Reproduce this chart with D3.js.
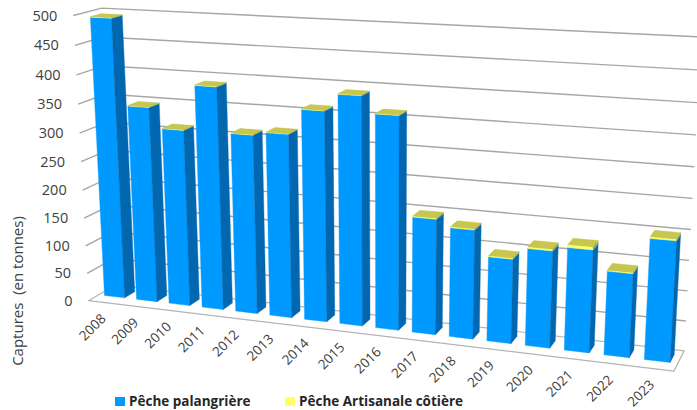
<!DOCTYPE html>
<html>
<head>
<meta charset="utf-8">
<script src="https://cdn.jsdelivr.net/npm/d3@7"></script>
<style>
  html, body { margin: 0; padding: 0; background: #ffffff; }
  svg { display: block; }
  text { font-family: "Open Sans", "DejaVu Sans", sans-serif; }
</style>
</head>
<body>
<script>
// ---- data -------------------------------------------------------------
const years = ["2008","2009","2010","2011","2012","2013","2014","2015",
               "2016","2017","2018","2019","2020","2021","2022","2023"];
const palangriere = [493, 345, 310, 388, 311, 317, 360, 389, 361, 196, 184, 142, 162, 170, 138, 197];
const artisanale  = [1, 1, 1, 1, 1, 1, 1, 1, 1, 2, 2, 2, 3, 5, 2, 3];
const yTicks = [0, 50, 100, 150, 200, 250, 300, 350, 400, 450, 500];
const seriesNames = ["Pêche palangrière", "Pêche Artisanale côtière"];
const yTitle = "Captures  (en tonnes)";

// ---- page -------------------------------------------------------------
const W = 697, H = 410;
const svg = d3.select("body").append("svg").attr("width", W).attr("height", H);

// ---- perspective projection of the unit box ---------------------------
// box coordinates: x = category axis (0..1), y = value (0..1), z = depth (0 front .. 1 back)
// anchor points: where the box corners fall on the page
const boxAnchors = [
  [[0, 0, 0], [89, 301]],
  [[0, 1, 0], [73, 16]],
  [[0, 0.5, 0], [81, 161]],
  [[0, 1, 1], [102, 8]],
  [[0, 0, 1], [115, 285]],
  [[1, 0, 0], [674, 371]],
  [[1, 0, 1], [684, 351]],
  [[1, 1, 1], [701.5, 37]]
];

const NX = 350, NY = 200, NS = 350;   // page normalisation for a stable solve

// least-squares 3x4 projective camera through the anchor points
function fitProjection(pairs) {
  const rows = [], rhs = [];
  pairs.forEach(([[X, Y, Z], [u0, v0]]) => {
    const u = (u0 - NX) / NS, v = (v0 - NY) / NS;
    rows.push([X, Y, Z, 1, 0, 0, 0, 0, -u * X, -u * Y, -u * Z]); rhs.push(u);
    rows.push([0, 0, 0, 0, X, Y, Z, 1, -v * X, -v * Y, -v * Z]); rhs.push(v);
  });
  const n = 11;
  const M = Array.from({ length: n }, () => new Array(n + 1).fill(0));
  rows.forEach((r, k) => {
    for (let i = 0; i < n; i++) {
      for (let j = 0; j < n; j++) M[i][j] += r[i] * r[j];
      M[i][n] += r[i] * rhs[k];
    }
  });
  for (let c = 0; c < n; c++) {
    let piv = c;
    for (let r = c + 1; r < n; r++) if (Math.abs(M[r][c]) > Math.abs(M[piv][c])) piv = r;
    [M[c], M[piv]] = [M[piv], M[c]];
    for (let r = 0; r < n; r++) {
      if (r === c) continue;
      const f = M[r][c] / M[c][c];
      for (let j = c; j <= n; j++) M[r][j] -= f * M[c][j];
    }
  }
  return M.map((row, i) => row[n] / row[i]);
}

const P = fitProjection(boxAnchors);
function project([X, Y, Z]) {
  const w = P[8] * X + P[9] * Y + P[10] * Z + 1;
  const u = (P[0] * X + P[1] * Y + P[2] * Z + P[3]) / w;
  const v = (P[4] * X + P[5] * Y + P[6] * Z + P[7]) / w;
  return [u * NS + NX, v * NS + NY];
}
const pathOf = pts => "M" + pts.map(p => project(p).map(d => d.toFixed(2)).join(",")).join("L") + "Z";
function signedArea(pts) {
  const q = pts.map(project);
  let s = 0;
  for (let i = 0; i < q.length; i++) {
    const a = q[i], b = q[(i + 1) % q.length];
    s += a[0] * b[1] - b[0] * a[1];
  }
  return s;
}

// ---- scales -----------------------------------------------------------
const x = d3.scaleBand().domain(years).range([0, 1]).paddingInner(0.37).paddingOuter(0.185);
const y = d3.scaleLinear().domain([0, 500]).range([0, 1]);
const zFront = 0.37, zBack = 0.76;

// ---- walls, floor and gridlines --------------------------------------
const gridColor = "#a6a6a6";
const frame = svg.append("g");
frame.append("path").attr("d", pathOf([[0,0,1],[1,0,1],[1,1,1],[0,1,1]])).attr("fill", "#ffffff");
frame.append("path").attr("d", pathOf([[0,0,0],[0,0,1],[0,1,1],[0,1,0]])).attr("fill", "#ffffff");

frame.selectAll("path.grid")
  .data(yTicks.filter(t => t > 0))
  .join("path")
  .attr("class", "grid")
  .attr("d", t => d3.line()([[0, y(t), 0], [0, y(t), 1], [1, y(t), 1]].map(project)))
  .attr("fill", "none")
  .attr("stroke", gridColor)
  .attr("stroke-width", 1.4);

frame.append("path")
  .attr("d", pathOf([[0,0,0],[1,0,0],[1,0,1],[0,0,1]]))
  .attr("fill", "#ffffff")
  .attr("stroke", "#b4b4b4")
  .attr("stroke-width", 1.2)
  .attr("stroke-linejoin", "round");

// ---- value axis labels -----------------------------------------------
svg.append("g").selectAll("text")
  .data(yTicks)
  .join("text")
  .attr("x", t => project([0, y(t), 0])[0] - 16)
  .attr("y", t => project([0, y(t), 0])[1])
  .attr("dy", "0.35em")
  .attr("text-anchor", "end")
  .attr("font-size", 14.5)
  .attr("fill", "#404040")
  .text(t => t);

svg.append("text")
  .attr("transform", "translate(23,291) rotate(-90)")
  .attr("text-anchor", "middle")
  .attr("font-size", 15)
  .attr("fill", "#404040")
  .style("white-space", "pre")
  .text(yTitle);

// ---- category labels -------------------------------------------------
svg.append("g").selectAll("text")
  .data(years)
  .join("text")
  .attr("transform", d => {
    const [px, py] = project([x(d) + x.bandwidth() / 2, 0, 0]);
    return `translate(${px + 2},${py + 17}) rotate(-45)`;
  })
  .attr("text-anchor", "end")
  .attr("font-size", 13.5)
  .attr("fill", "#404040")
  .text(d => d);

// ---- stacked 3-D columns ---------------------------------------------
const table = years.map((yr, i) => ({ year: yr, pal: palangriere[i], art: artisanale[i] }));
const stacked = d3.stack().keys(["pal", "art"])(table);
const faceColors = {
  pal: { front: "#0099ff", side: "#0067b0", top: "#45b5ff", back: "#0099ff", bottom: "#0080d0" },
  art: { front: "#ffff66", side: "#a8a83a", top: "#c9c64f", back: "#ffff66", bottom: "#d0d050" }
};

function boxFaces(x0, x1, y0, y1, z0, z1) {
  return [
    { k: "front",  pts: [[x0,y0,z0],[x1,y0,z0],[x1,y1,z0],[x0,y1,z0]] },
    { k: "back",   pts: [[x1,y0,z1],[x0,y0,z1],[x0,y1,z1],[x1,y1,z1]] },
    { k: "side",   pts: [[x1,y0,z0],[x1,y0,z1],[x1,y1,z1],[x1,y1,z0]] },
    { k: "side",   pts: [[x0,y0,z1],[x0,y0,z0],[x0,y1,z0],[x0,y1,z1]] },
    { k: "top",    pts: [[x0,y1,z0],[x1,y1,z0],[x1,y1,z1],[x0,y1,z1]] },
    { k: "bottom", pts: [[x1,y0,z0],[x0,y0,z0],[x0,y0,z1],[x1,y0,z1]] }
  ];
}

// columns painted left to right, each face kept only when it faces the viewer
const barsG = svg.append("g");
years.forEach((yr, i) => {
  stacked.forEach(layer => {
    const seg = layer[i];
    const x0 = x(yr), x1 = x(yr) + x.bandwidth();
    const y0 = y(seg[0]), y1 = y(seg[1]);
    const faces = boxFaces(x0, x1, y0, y1, zFront, zBack);
    const ref = Math.sign(signedArea(faces[0].pts));
    faces.filter(f => Math.sign(signedArea(f.pts)) === ref)
      .forEach(f => {
        barsG.append("path")
          .attr("d", pathOf(f.pts))
          .attr("fill", faceColors[layer.key][f.k])
          .attr("stroke", faceColors[layer.key][f.k])
          .attr("stroke-width", 0.4)
          .attr("stroke-linejoin", "round");
      });
  });
});

// ---- legend ----------------------------------------------------------
const legendItems = [
  { name: seriesNames[0], color: "#0099ff", x: 115 },
  { name: seriesNames[1], color: "#ffff66", x: 285 }
];
const lg = svg.append("g").selectAll("g").data(legendItems).join("g")
  .attr("transform", d => `translate(${d.x},397)`);
lg.append("rect").attr("width", 10).attr("height", 9).attr("fill", d => d.color);
lg.append("text")
  .attr("x", 14).attr("y", 4.5).attr("dy", "0.35em")
  .attr("font-size", 13.5).attr("font-weight", "bold").attr("fill", "#262626")
  .text(d => d.name);
</script>
</body>
</html>
